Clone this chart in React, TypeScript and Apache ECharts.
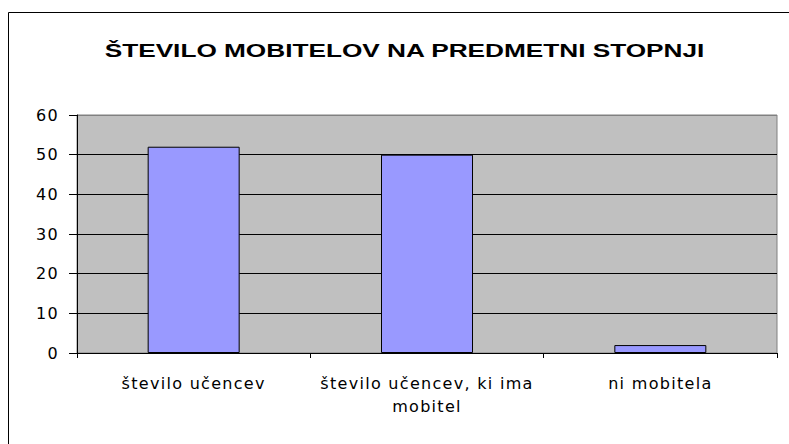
import React, { useEffect, useRef } from "react";
import * as echarts from "echarts";

const titleText = "ŠTEVILO MOBITELOV NA PREDMETNI STOPNJI";
const categories = ["število učencev", "število učencev, ki ima\nmobitel", "ni mobitela"];
const values = [52, 50, 2];
const yMin = 0;
const yMax = 60;
const yInterval = 10;

export default function App() {
  const ref = useRef<HTMLDivElement>(null);

  useEffect(() => {
    if (!ref.current) return;
    const chart = echarts.init(ref.current, null, { renderer: "svg" });
    const splitColors = ["#000000", "#000000", "#000000", "#000000", "#000000", "#000000", "#808080"];
    chart.setOption({
      animation: false,
      backgroundColor: "#ffffff",
      graphic: [
        {
          type: "rect",
          shape: { x: 8.5, y: 12.5, width: 900, height: 600 },
          style: { fill: "none", stroke: "#000000", lineWidth: 1 },
          silent: true,
        },
        {
          type: "text",
          x: 404.5,
          y: 50,
          scaleX: 1.38,
          style: {
            text: titleText,
            fontFamily: "Liberation Sans",
            fontSize: 19,
            fontWeight: "bold",
            fill: "#000000",
            textAlign: "center",
            textVerticalAlign: "middle",
          },
        },
      ],
      grid: {
        left: 77,
        right: 12,
        top: 115,
        bottom: 91,
        show: true,
        backgroundColor: "#C0C0C0",
        borderColor: "#808080",
        borderWidth: 1,
      },
      xAxis: {
        type: "category",
        data: categories,
        axisLine: { show: true, lineStyle: { color: "#000000", width: 1 } },
        axisTick: { show: true, alignWithLabel: false, length: 5, lineStyle: { color: "#000000" } },
        axisLabel: {
          interval: 0,
          margin: 19,
          color: "#000000",
          fontFamily: "DejaVu Sans",
          fontSize: 16,
          lineHeight: 23,
          align: "center",
        },
        splitLine: { show: false },
      },
      yAxis: {
        type: "value",
        min: yMin,
        max: yMax,
        interval: yInterval,
        axisLine: { show: true, lineStyle: { color: "#000000", width: 1 } },
        axisTick: { show: true, length: 8, lineStyle: { color: "#000000" } },
        axisLabel: {
          margin: 18,
          color: "#000000",
          fontFamily: "DejaVu Sans",
          fontSize: 16,
        },
        splitLine: { show: true, lineStyle: { color: splitColors, width: 1 } },
      },
      series: [
        {
          type: "bar",
          data: values,
          barWidth: 92,
          itemStyle: { color: "#9999FF", borderColor: "#000000", borderWidth: 1 },
        },
      ],
    });
    return () => chart.dispose();
  }, []);

  return (
    <>
      <style>{`#chart text[style*="16px"]{letter-spacing:1.3px;}`}</style>
      <div
        id="chart"
        ref={ref}
        style={{ position: "absolute", left: 0, top: 0, width: 789, height: 444, background: "#fff" }}
      />
    </>
  );
}
